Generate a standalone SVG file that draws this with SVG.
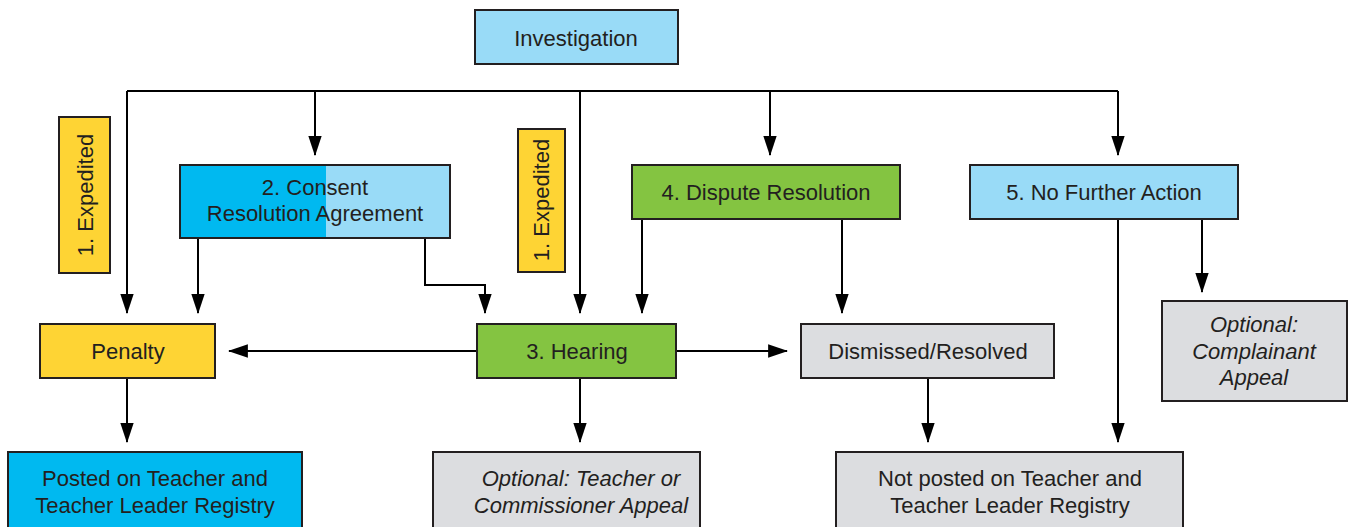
<svg xmlns="http://www.w3.org/2000/svg" width="1350" height="527" viewBox="0 0 1350 527">
<style>
.box{stroke:#231f20;stroke-width:2}
.yellow{fill:#fed434}.green{fill:#84c441}.lblue{fill:#99dbf7}.blue{fill:#00b9f0}.gray{fill:#dcdde0}
text{font-family:"Liberation Sans",Arial,sans-serif;font-size:22px;fill:#231f20;text-anchor:middle}
.it{font-style:italic}
.con{fill:none;stroke:#000;stroke-width:2}
</style>
<defs>
<marker id="ah" markerUnits="userSpaceOnUse" markerWidth="20" markerHeight="14" viewBox="0 0 18 12" refX="17" refY="6" orient="auto">
<path d="M0,0 L18,6 L0,12 Z" fill="#000"/>
</marker>
</defs>
<g id="connectors" class="con" marker-end="url(#ah)">
<path d="M127,91 H1118" marker-end="none"/>
<path d="M127,91 V313"/>
<path d="M315,91 V155"/>
<path d="M580,91 V313"/>
<path d="M770,91 V155"/>
<path d="M1118,91 V155"/>
<path d="M198,238 V313"/>
<path d="M425,238 V285 H485 V313"/>
<path d="M642,219 V313"/>
<path d="M842,219 V313"/>
<path d="M1118,219 V442"/>
<path d="M1202,219 V292"/>
<path d="M477,351 H229"/>
<path d="M676,351 H787"/>
<path d="M127,378 V442"/>
<path d="M580,378 V442"/>
<path d="M928,378 V442"/>
</g>
<g id="investigation"><rect class="box lblue" x="475" y="10" width="203" height="54"/><text x="576" y="46">Investigation</text></g>
<g id="expedited1"><rect class="box yellow" x="59" y="117" width="51" height="156"/><text transform="translate(93,195) rotate(-90)">1. Expedited</text></g>
<g id="consent">
<rect x="180" y="165" width="146" height="73" class="blue"/>
<rect x="326" y="165" width="124" height="73" class="lblue"/>
<rect x="180" y="165" width="270" height="73" fill="none" class="box"/>
<text x="315" y="195">2. Consent</text><text x="315" y="221">Resolution Agreement</text></g>
<g id="expedited2"><rect class="box yellow" x="518" y="129" width="47" height="143"/><text transform="translate(549,200) rotate(-90)">1. Expedited</text></g>
<g id="dispute"><rect class="box green" x="632" y="165" width="268" height="54"/><text x="766" y="200">4. Dispute Resolution</text></g>
<g id="nofurther"><rect class="box lblue" x="970" y="165" width="268" height="54"/><text x="1104" y="200">5. No Further Action</text></g>
<g id="penalty"><rect class="box yellow" x="40" y="324" width="175" height="54"/><text x="128" y="359">Penalty</text></g>
<g id="hearing"><rect class="box green" x="477" y="324" width="199" height="54"/><text x="577" y="359">3. Hearing</text></g>
<g id="dismissed"><rect class="box gray" x="801" y="324" width="253" height="54"/><text x="928" y="359">Dismissed/Resolved</text></g>
<g id="complainant"><rect class="box gray" x="1162" y="301" width="185" height="100"/><text class="it" x="1254" y="332">Optional:</text><text class="it" x="1254" y="359">Complainant</text><text class="it" x="1254" y="385">Appeal</text></g>
<g id="posted"><rect class="box blue" x="8" y="452" width="294" height="90"/><text x="155" y="486">Posted on Teacher and</text><text x="155" y="513">Teacher Leader Registry</text></g>
<g id="teacherappeal"><rect class="box gray" x="433" y="452" width="267" height="90"/><text class="it" x="581" y="486">Optional: Teacher or</text><text class="it" x="581" y="513">Commissioner Appeal</text></g>
<g id="notposted"><rect class="box gray" x="836" y="452" width="347" height="90"/><text x="1010" y="486">Not posted on Teacher and</text><text x="1010" y="513">Teacher Leader Registry</text></g>
</svg>
